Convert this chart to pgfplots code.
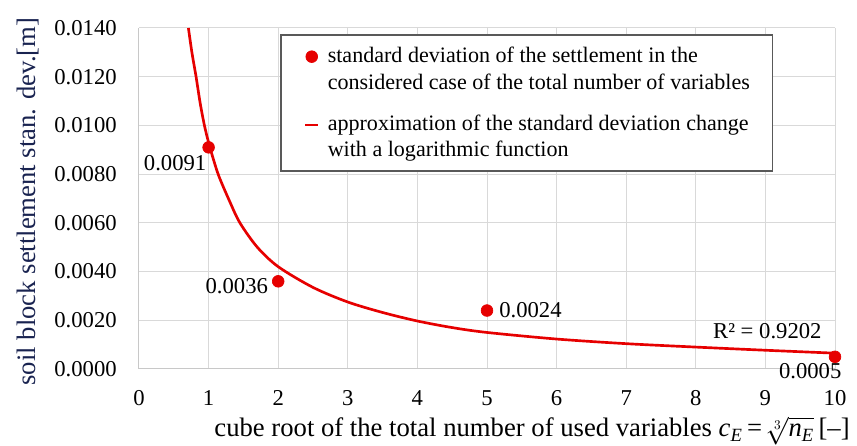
\documentclass[border=0pt]{standalone}
\usepackage{amsmath}
\usepackage{fontspec}
\setmainfont{Liberation Serif}
\usepackage{pgfplots}
\pgfplotsset{compat=1.18}
\definecolor{xlred}{RGB}{230,0,0}
\definecolor{gridgray}{RGB}{217,217,217}
\definecolor{axgray}{RGB}{200,200,200}
\definecolor{navy}{RGB}{25,35,80}
\definecolor{leggray}{RGB}{89,89,89}
\pgfplotsset{
  markleg/.style={legend image code/.code={\draw[mark repeat=2,mark phase=2,##1] plot coordinates {(0pt,9.5pt) (5pt,9.5pt) (10pt,9.5pt)};}},
  lineleg/.style={legend image code/.code={\draw[##1] (0pt,9pt) -- (10pt,9pt);}},
}
\begin{document}
\begin{tikzpicture}
\begin{axis}[
  scale only axis, width=522pt, height=255.75pt,
  xmin=0, xmax=10, ymin=0, ymax=0.014,
  xtick={0,1,2,3,4,5,6,7,8,9,10},
  xticklabels={\textrm{0},\textrm{1},\textrm{2},\textrm{3},\textrm{4},\textrm{5},\textrm{6},\textrm{7},\textrm{8},\textrm{9},\textrm{10}},
  ytick={0,0.002,0.004,0.006,0.008,0.010,0.012,0.014},
  yticklabels={\textrm{0.0000},\textrm{0.0020},\textrm{0.0040},\textrm{0.0060},\textrm{0.0080},\textrm{0.0100},\textrm{0.0120},\textrm{0.0140}},
  grid=major, major grid style={draw=gridgray, line width=0.75pt},
  axis line style={draw=axgray, line width=0.75pt},
  axis x line*=bottom, axis y line*=left,
  major tick length=0pt, tick style={draw=none},
  clip mode=individual,
  scaled y ticks=false,
  tick label style={font=\rmfamily\fontsize{17}{20}\selectfont},
  yticklabel style={anchor=east, inner sep=0pt, xshift=-16.5pt},
  xticklabel style={anchor=north, inner sep=0pt, yshift=-15.75pt},
  xlabel={cube root of the total number of used variables \textit{c}\textsubscript{\textit{E}}\,=\,$\sqrt[3]{\textit{n}_{\textit{E}}}\,$[–]},
  xlabel style={at={(axis description cs:1.0215,-0.199)}, anchor=base east, inner sep=0pt, font=\fontsize{20}{24}\selectfont},
  ylabel={soil block settlement stan. dev.[m]},
  ylabel style={at={(axis description cs:-0.1494,0.491)}, anchor=base, inner sep=0pt, font=\fontsize{20}{24}\selectfont, text=navy},
  legend style={at={(axis cs:2.03,0.01375)}, anchor=north west, draw=leggray, line width=1.2pt, fill=white,
    font=\fontsize{16.55}{20}\selectfont, inner xsep=17pt, inner ysep=9.25pt,
    cells={anchor=west, align=left}, nodes={inner sep=0pt}, column sep=6pt, row sep=17.5pt},
]
\addplot[only marks, mark=*, mark size=4.4pt, color=xlred, line width=0.5pt, markleg]
  coordinates {(1,0.0091) (2,0.0036) (5,0.0024) (10,0.0005)};
\addlegendentry{standard deviation of the settlement in the\\considered case of the total number of variables}
\addplot[smooth, no marks, color=xlred, line width=2pt, lineleg]
  coordinates {(0.71,0.0140) (0.76,0.0130) (0.82,0.0120) (0.88,0.0109) (0.94,0.0100) (1.0,0.0093)
   (1.07,0.0086) (1.15,0.0079) (1.3,0.0069) (1.45,0.0060) (1.7,0.0050) (2.0,0.0042) (2.5,0.00335)
   (3.0,0.00275) (3.5,0.00232) (4.0,0.00197) (4.5,0.0017) (5.0,0.0015) (6.0,0.00123) (7.0,0.00104)
   (8.0,0.0009) (9.0,0.00077) (10.0,0.00065)};
\addlegendentry{approximation of the standard deviation change\\with a logarithmic function}
\node[anchor=north east, inner sep=0pt, font=\fontsize{17}{20}\selectfont, xshift=-1.5pt, yshift=-6pt] at (axis cs:1,0.0091) {0.0091};
\node[anchor=east, inner sep=0pt, font=\fontsize{17}{20}\selectfont, xshift=-7.5pt, yshift=-3.4pt] at (axis cs:2,0.0036) {0.0036};
\node[anchor=west, inner sep=0pt, font=\fontsize{17}{20}\selectfont, xshift=9pt] at (axis cs:5,0.0024) {0.0024};
\node[anchor=north east, inner sep=0pt, font=\fontsize{17}{20}\selectfont, xshift=5pt, yshift=-4.5pt] at (axis cs:10,0.0005) {0.0005};
\node[anchor=base east, inner sep=0pt, font=\fontsize{17}{20}\selectfont] at (axis cs:9.81,0.00127) {R² = 0.9202};
\end{axis}
\pgfresetboundingbox
\useasboundingbox ([shift={(-104.25pt,-57.75pt)}]current axis.south west) rectangle ([shift={(16.5pt,21pt)}]current axis.north east);
\end{tikzpicture}
\end{document}
